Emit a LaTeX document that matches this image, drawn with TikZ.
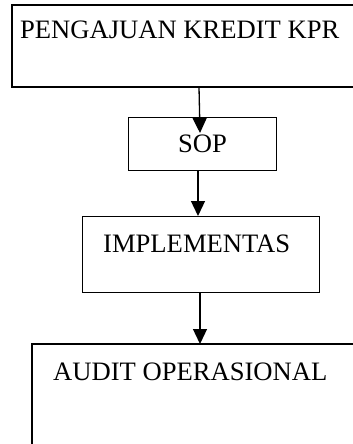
\documentclass[tikz,border=0pt]{standalone}
\usepackage{fontspec}
\setmainfont{Liberation Serif}
\usetikzlibrary{arrows.meta,calc}
\begin{document}
\begin{tikzpicture}[x=1pt,y=1pt,
  box/.style={draw=black,line width=1.3pt,fill=none,inner sep=0pt,anchor=north west},
  openbox/.style={inner sep=0pt,outer sep=0pt,anchor=north west},
  boxline/.style={line width=1.3pt,line join=miter},
  lbl/.style={inner sep=0pt,anchor=base west,font=\fontsize{26.6}{30}\selectfont},
  conn/.style={line width=1.3pt,-{Triangle[length=15pt,width=14pt]}}]
\useasboundingbox (0,0) rectangle (353,-444);
\coordinate (kpr) at (12,-5);
\coordinate (audit) at (32,-344);
\node[box,minimum width=148pt,minimum height=53pt] (sop) at (128,-117) {};
\node[box,minimum width=237pt,minimum height=76pt] (impl) at (82,-216) {};
\draw[boxline] ($(kpr)+(341,0)$) -- (kpr) -- ($(kpr)+(0,-82)$) -- ($(kpr)+(341,-82)$);
\draw[boxline] ($(audit)+(321,0)$) -- (audit) -- ($(audit)+(0,-100)$);
\node[lbl] (t1) at (20,-39) {PENGAJUAN KREDIT KPR};
\node[lbl] (t2) at (178,-152) {SOP};
\node[lbl] (t3) at (103,-252) {IMPLEMENTAS};
\node[lbl] (t4) at (53,-380) {AUDIT OPERASIONAL};
\draw[conn] ($(kpr)+(187,-82)$) -- ($(sop.north west)+(72,-16)$);
\draw[conn] ($(sop.south west)+(70,0)$) -- ($(impl.north west)+(116,0)$);
\draw[conn] ($(impl.south west)+(118,0)$) -- ($(audit)+(168,0)$);
\end{tikzpicture}
\end{document}
